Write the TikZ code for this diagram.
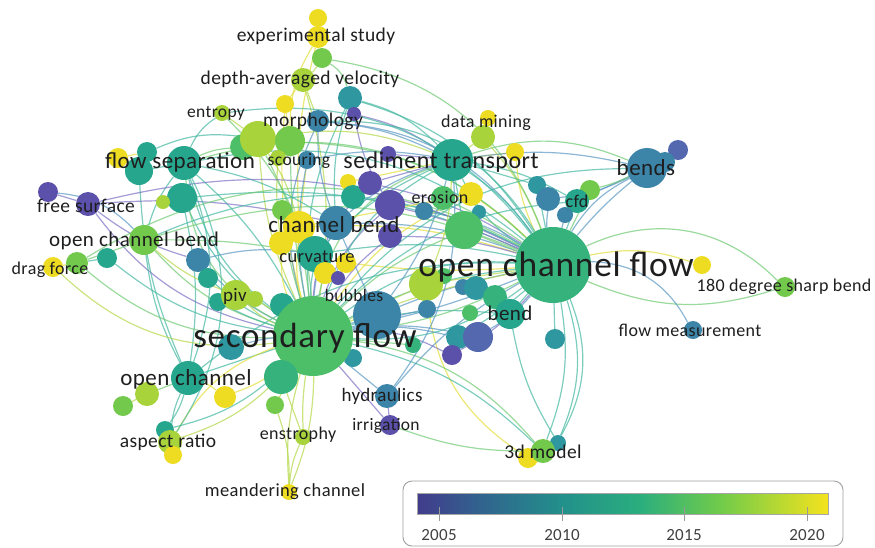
\documentclass[tikz,border=0pt]{standalone}
\usepackage{fontspec}
\setmainfont{Carlito}[LetterSpace=2]
\pgfdeclarelayer{edges}
\pgfdeclarelayer{labels}
\pgfsetlayers{edges,main,labels}
\definecolor{cP}{HTML}{5B50AA}
\definecolor{cBv}{HTML}{5468B0}
\definecolor{cB}{HTML}{3C84A8}
\definecolor{cBT}{HTML}{2E97A0}
\definecolor{cT}{HTML}{27A68E}
\definecolor{cTG}{HTML}{36B27C}
\definecolor{cG}{HTML}{4DBF68}
\definecolor{cGL}{HTML}{72C94C}
\definecolor{cL}{HTML}{A8D33A}
\definecolor{cY}{HTML}{EEDC22}
\definecolor{eT}{HTML}{45B8A2}
\definecolor{eY}{HTML}{E4DE3A}
\definecolor{eG}{HTML}{6FCA72}
\definecolor{eB}{HTML}{5A98C2}
\definecolor{eP}{HTML}{7D72C4}
\definecolor{eL}{HTML}{B5D84A}
\definecolor{txt}{HTML}{1E1E1E}
\definecolor{v0}{HTML}{423B8C}
\definecolor{v1}{HTML}{31638E}
\definecolor{v2}{HTML}{22908B}
\definecolor{v3}{HTML}{2BAE7E}
\definecolor{v4}{HTML}{70CB4A}
\definecolor{v5}{HTML}{F4E31E}
\newcommand\fsz[1]{\fontsize{#1}{#1}\selectfont}
\tikzset{
  ball/.style={circle,inner sep=0pt,draw=none},
  edge/.style={line width=1.2pt,opacity=0.7},
  lbl/.style={inner sep=0pt,text=txt,font=\fsz{18}},
  tick/.style={draw=gray!80,line width=0.8pt},
  yr/.style={inner sep=0pt,text=txt!85,font=\fsz{17}}
}
\newcommand\bal[5]{\node[ball,fill=#5,minimum size={2*#4pt}] (#1) at (#2,#3) {};}
\begin{document}
\begin{tikzpicture}[x=1pt,y=-1pt]
\useasboundingbox (0,0) rectangle (875,547);
% ---------- nodes ----------
\bal{es1}{318}{18}{9}{cY}
\bal{es2}{318}{37}{11}{cY}
\bal{es3}{322}{58}{10}{cGL}
\bal{dav}{303}{80}{12}{cL}
\bal{dy}{285}{104}{9}{cY}
\bal{mt}{350}{98}{12}{cBT}
\bal{mp}{354}{114}{7}{cP}
\bal{ent}{222}{113}{8}{cL}
\bal{mor}{318}{121}{11}{cB}
\bal{g2}{243}{147}{13}{cG}
\bal{l1}{258}{139}{18}{cL}
\bal{g1}{290}{141}{15}{cGL}
\bal{sl}{278}{158}{8}{cL}
\bal{sco}{307}{160}{9}{cB}
\bal{fy}{118}{158}{10}{cY}
\bal{ft1}{147}{152}{10}{cT}
\bal{ft2}{139}{171}{14}{cT}
\bal{fs}{184}{163}{17}{cT}
\bal{ft3}{182}{198}{15}{cT}
\bal{fl}{163}{202}{7}{cL}
\bal{fp1}{48}{192}{10}{cP}
\bal{fp2}{88}{204}{12}{cP}
\bal{ocb}{144}{240}{15}{cGL}
\bal{dfy}{53}{267}{10}{cY}
\bal{dfg}{77}{263}{11}{cGL}
\bal{dft}{107}{258}{10}{cT}
\bal{ob1}{198}{260}{12}{cB}
\bal{ot1}{208}{278}{10}{cT}
\bal{cg}{282}{210}{10}{cGL}
\bal{cby2}{281}{243}{12}{cY}
\bal{cby1}{299}{227}{16}{cY}
\bal{cur}{315}{254}{18}{cT}
\bal{cbb}{336}{223}{17}{cB}
\bal{cy3}{346}{263}{10}{cY}
\bal{cy4}{325}{273}{11}{cY}
\bal{cp1}{338}{278}{7}{cP}
\bal{cy5}{348}{182}{8}{cY}
\bal{ct2}{353}{197}{12}{cT}
\bal{pp4}{388}{154}{8}{cP}
\bal{pp1}{370}{183}{12}{cP}
\bal{pp2}{390}{205}{15}{cP}
\bal{pp3}{390}{236}{12}{cP}
\bal{eb}{424}{211}{9}{cB}
\bal{st}{452}{160}{21}{cT}
\bal{dm1}{488}{118}{8}{cY}
\bal{dm2}{483}{137}{12}{cL}
\bal{sy}{515}{152}{9}{cY}
\bal{eg}{443}{198}{12}{cG}
\bal{ey}{471}{194}{12}{cY}
\bal{et}{479}{212}{7}{cBT}
\bal{gb}{464}{230}{19}{cG}
\bal{c1}{537}{185}{9}{cBT}
\bal{c2}{548}{199}{12}{cB}
\bal{c3}{590}{190}{10}{cGL}
\bal{cfd}{577}{201}{12}{cT}
\bal{c4}{565}{215}{8}{cB}
\bal{bn3}{678}{150}{10}{cBv}
\bal{bn2}{665}{162}{10}{cB}
\bal{bn}{647}{168}{20}{cB}
\bal{ocf}{553}{265}{38}{cTG}
\bal{y180}{702}{265}{9}{cY}
\bal{g180}{785}{287}{10}{cGL}
\bal{fm}{693}{330}{9}{cB}
\bal{lg}{444}{276}{8}{cG}
\bal{lm}{426}{284}{17}{cL}
\bal{b1}{427}{309}{9}{cB}
\bal{bl1}{463}{287}{8}{cB}
\bal{t1}{476}{288}{12}{cBT}
\bal{g3}{495}{297}{12}{cTG}
\bal{gs}{470}{313}{8}{cG}
\bal{bd}{510}{314}{15}{cT}
\bal{t2}{458}{337}{12}{cBT}
\bal{b2}{478}{337}{15}{cBv}
\bal{p2}{452}{355}{10}{cP}
\bal{ts}{555}{339}{10}{cBT}
\bal{gs2}{413}{345}{8}{cTG}
\bal{pt1}{218}{302}{9}{cT}
\bal{piv}{236}{295}{15}{cL}
\bal{pl}{255}{299}{8}{cL}
\bal{pt2}{282}{305}{12}{cT}
\bal{pt3}{231}{347}{13}{cBT}
\bal{bub}{377}{315}{24}{cB}
\bal{bt}{353}{358}{9}{cBT}
\bal{sf}{313}{336}{40}{cG}
\bal{oc}{188}{378}{17}{cT}
\bal{ocl1}{147}{394}{12}{cL}
\bal{ocl2}{123}{406}{10}{cGL}
\bal{ocy}{225}{397}{11}{cY}
\bal{og}{281}{377}{17}{cTG}
\bal{ogl}{275}{405}{9}{cGL}
\bal{art}{165}{430}{9}{cT}
\bal{ar}{170}{442}{12}{cL}
\bal{ary}{173}{455}{9}{cY}
\bal{ens}{303}{437}{8}{cL}
\bal{mc}{289}{492}{8}{cY}
\bal{hyd}{387}{396}{12}{cB}
\bal{irr}{390}{425}{10}{cP}
\bal{d3t}{558}{443}{8}{cBT}
\bal{d3y}{528}{458}{10}{cY}
\bal{d3g}{543}{451}{12}{cGL}
% ---------- edges ----------
\begin{pgfonlayer}{edges}
\foreach \a/\b/\c/\d in {
es1/es2/eY/0, es2/es3/eL/0, es3/dav/eL/10, es3/mt/eG/20, es2/g1/eY/-15, es2/cby1/eY/-8,
dav/dy/eY/0, dav/mor/eL/0, dy/g1/eY/0, dy/sf/eY/-10, dav/sf/eL/12,
mt/st/eT/15, mt/ocf/eT/20, mt/cbb/eT/-10, mt/sf/eT/-15, mp/pp2/eP/-10, mp/st/eP/10,
ent/l1/eL/0, ent/fs/eT/-15, ent/sf/eG/20, mor/st/eB/10, mor/cbb/eB/-10, mor/ocf/eB/25, mor/sf/eB/-20,
l1/sf/eL/-10, l1/sf/eG/10, g1/sf/eG/-5, g1/ocf/eG/20, g2/fs/eG/-10, l1/st/eL/15, l1/cby1/eL/10,
sco/cby1/eY/0, sco/st/eB/10, sco/sf/eB/-10, sl/cby2/eL/-5,
fs/sf/eT/-20, fs/sf/eT/10, fs/ocb/eT/-10, fs/ocf/eT/25, fs/cbb/eT/10, fs/ft2/eT/0,
ft1/fy/eY/0, ft1/l1/eT/15, ft2/oc/eT/-10, ft3/sf/eT/-15, ft3/oc/eT/10, ft3/ocf/eT/15, fl/ft3/eL/0,
fp1/fp2/eP/0, fp2/cbb/eP/8, fp2/ob1/eP/-10, fp2/sf/eP/-20, fp1/ocb/eB/20,
ocb/sf/eG/-15, ocb/dfg/eG/0, ocb/oc/eT/-10, ocb/ocf/eG/20, ocb/cur/eG/5,
dfy/dfg/eY/0, dfg/sf/eG/-20, dfy/sf/eL/-25, dfg/dft/eT/0, dft/sf/eT/-15,
ob1/sf/eB/-10, ob1/cur/eB/10, ot1/sf/eT/-10,
cbb/ocf/eB/10, cbb/sf/eB/-10, cur/ocf/eT/10, cur/sf/eT/-5, cby1/ocf/eY/10, cby1/sf/eY/-10,
cby2/sf/eY/-15, cy3/ocf/eY/-5, pp1/ocf/eP/10, pp2/ocf/eP/5, pp2/sf/eP/-15, pp3/sf/eP/-10,
pp3/ocf/eP/8, pp1/sf/eP/-20, ct2/ocf/eT/10, eb/ocf/eB/10, cy5/st/eY/0, pp4/st/eP/0,
st/ocf/eT/10, st/ocf/eT/-15, st/sf/eT/-20, st/dm2/eL/0, st/bn/eG/20, st/cfd/eT/10,
dm2/ocf/eL/10, dm1/dm2/eY/0, sy/ocf/eY/-10, sy/st/eY/0, eg/ocf/eG/5, ey/ocf/eY/5, ey/sf/eY/-15,
gb/ocf/eG/0, gb/sf/eG/-10, bn/ocf/eB/-15, bn/ocf/eB/-5, bn/cfd/eB/0, bn/c2/eB/10,
c3/bn/eG/-5, bn3/bn/eP/0, bn2/bn/eB/0, cfd/ocf/eT/0, c2/ocf/eB/-5, c1/st/eT/0, c4/ocf/eB/0,
ocf/g180/eG/35, ocf/g180/eG/-20, ocf/y180/eY/15, ocf/fm/eB/30, ocf/d3t/eT/20, ocf/d3t/eT/25,
ocf/d3g/eT/15, ocf/sf/eT/-10, ocf/sf/eG/10, ocf/bd/eT/0, ocf/ts/eT/0, ocf/lm/eL/0, ocf/bub/eB/-5,
lm/d3y/eY/-25, sf/d3g/eG/20, sf/d3g/eT/15, sf/mc/eL/10, sf/mc/eL/-10, sf/ens/eL/-5, sf/oc/eT/0,
sf/ar/eL/15, sf/hyd/eB/0, hyd/irr/eP/0, irr/d3g/eG/-10, hyd/ocf/eB/10, sf/og/eG/0, sf/ocy/eY/10,
sf/ogl/eL/0, oc/ar/eT/-10, oc/art/eT/10, oc/ocl1/eG/0, ocl1/ocl2/eL/0, oc/ocy/eY/10,
ar/sf/eY/20, ary/ar/eY/0, ens/mc/eL/-10, ogl/mc/eL/10, og/ens/eL/0, art/sf/eT/-15, oc/ocf/eT/20,
sf/bub/eB/0, sf/t2/eB/10, sf/b2/eB/10, sf/p2/eP/15, sf/bt/eT/0, sf/bd/eT/10, sf/gs2/eG/0,
b1/sf/eB/0, lm/sf/eL/0, piv/sf/eL/-10, pt1/sf/eT/-5, pl/sf/eL/0, pt2/sf/eT/0, pt3/sf/eB/5,
piv/ocb/eL/10, bd/d3t/eT/-10, b2/ocf/eB/-10, p2/ocf/eP/-10, t2/ocf/eT/-5, cg/sf/eG/-5,
sf/ocf/eT/-20, sf/ocf/eT/20, sf/ocf/eB/-5, sf/ocf/eL/5, st/sf/eG/-30, fs/ocf/eG/30,
ocb/ocf/eT/25, dfg/ocf/eG/30, fp2/ocf/eP/20, mor/ocf/eT/30, ent/ocf/eT/30, es3/ocf/eG/30,
bn/sf/eT/-25, bn/st/eB/-10, cfd/sf/eT/-20, c3/ocf/eG/0, c1/ocf/eT/0, gb/st/eT/0, cbb/st/eB/10,
pp1/st/eP/0, cur/st/eT/10, fs/sf/eG/-30, oc/fs/eT/-20, ar/fs/eT/-30,
hyd/st/eB/-20, bub/st/eB/-10, bub/cbb/eB/0, lm/st/eL/-10, ey/cby1/eY/0, irr/sf/eP/0}
  \draw[edge,\c] (\a) to[bend left=\d] (\b);
\end{pgfonlayer}
% ---------- labels ----------
\begin{pgfonlayer}{labels}
\node[lbl,font=\fsz{19.5}] (L1) at (316,36) {experimental study};
\node[lbl,font=\fsz{19.5}] (L2) at (300,79) {depth-averaged velocity};
\node[lbl,font=\fsz{17.5}] (L3) at (216,113) {entropy};
\node[lbl,font=\fsz{19.5}] (L4) at (313,121) {morphology};
\node[lbl,font=\fsz{23}] (L5) at (180,162) {flow separation};
\node[lbl,font=\fsz{17.5}] (L6) at (299,161) {scouring};
\node[lbl,font=\fsz{24}] (L7) at (441,162) {sediment transport};
\node[lbl] (L8) at (486,123) {data mining};
\node[lbl,font=\fsz{23}] (L9) at (646,168) {bends};
\node[lbl,font=\fsz{19.5}] (L10) at (86,206) {free surface};
\node[lbl] (L11) at (440,197) {erosion};
\node[lbl] (L12) at (577,201) {cfd};
\node[lbl,font=\fsz{21}] (L13) at (134,241) {open channel bend};
\node[lbl,font=\fsz{23}] (L14) at (334,225) {channel bend};
\node[lbl] (L15) at (50,270) {drag force};
\node[lbl,font=\fsz{18.5}] (L16) at (317,257) {curvature};
\node[lbl,font=\fsz{35.5}] (L17) at (556,267) {open channel flow};
\node[lbl] (L18) at (784,287) {180 degree sharp bend};
\node[lbl,font=\fsz{19}] (L19) at (235,296) {piv};
\node[lbl,font=\fsz{17.5}] (L20) at (354,295) {bubbles};
\node[lbl,font=\fsz{21}] (L21) at (510,313) {bend};
\node[lbl] (L22) at (690,330) {flow measurement};
\node[lbl,font=\fsz{35}] (L23) at (305,338) {secondary flow};
\node[lbl,font=\fsz{23}] (L24) at (186,379) {open channel};
\node[lbl,font=\fsz{19}] (L25) at (382,396) {hydraulics};
\node[lbl,font=\fsz{17.5}] (L26) at (386,426) {irrigation};
\node[lbl,font=\fsz{19.5}] (L27) at (168,442) {aspect ratio};
\node[lbl] (L28) at (298,435) {enstrophy};
\node[lbl,font=\fsz{18.5}] (L29) at (285,492) {meandering channel};
\node[lbl,font=\fsz{19.5}] (L30) at (543,452) {3d model};
\end{pgfonlayer}
% ---------- colour scale ----------
\draw[gray!75,line width=0.9pt,rounded corners=9pt] (403,481) rectangle (843,546);
\shade[left color=v0,right color=v1] (417,493) rectangle (480,514);
\shade[left color=v1,right color=v2] (480,493) rectangle (562,514);
\shade[left color=v2,right color=v3] (562,493) rectangle (640,514);
\shade[left color=v3,right color=v4] (640,493) rectangle (720,514);
\shade[left color=v4,right color=v5] (720,493) rectangle (828,514);
\draw[gray!70,line width=0.6pt] (417,493) rectangle (828,514);
\draw[tick] (439,507) -- (439,521);
\draw[tick] (562,507) -- (562,521);
\draw[tick] (684,507) -- (684,521);
\draw[tick] (807,507) -- (807,521);
\node[yr] (Y1) at (439,535) {2005};
\node[yr] (Y2) at (562,535) {2010};
\node[yr] (Y3) at (684,535) {2015};
\node[yr] (Y4) at (807,535) {2020};
\end{tikzpicture}
\end{document}
